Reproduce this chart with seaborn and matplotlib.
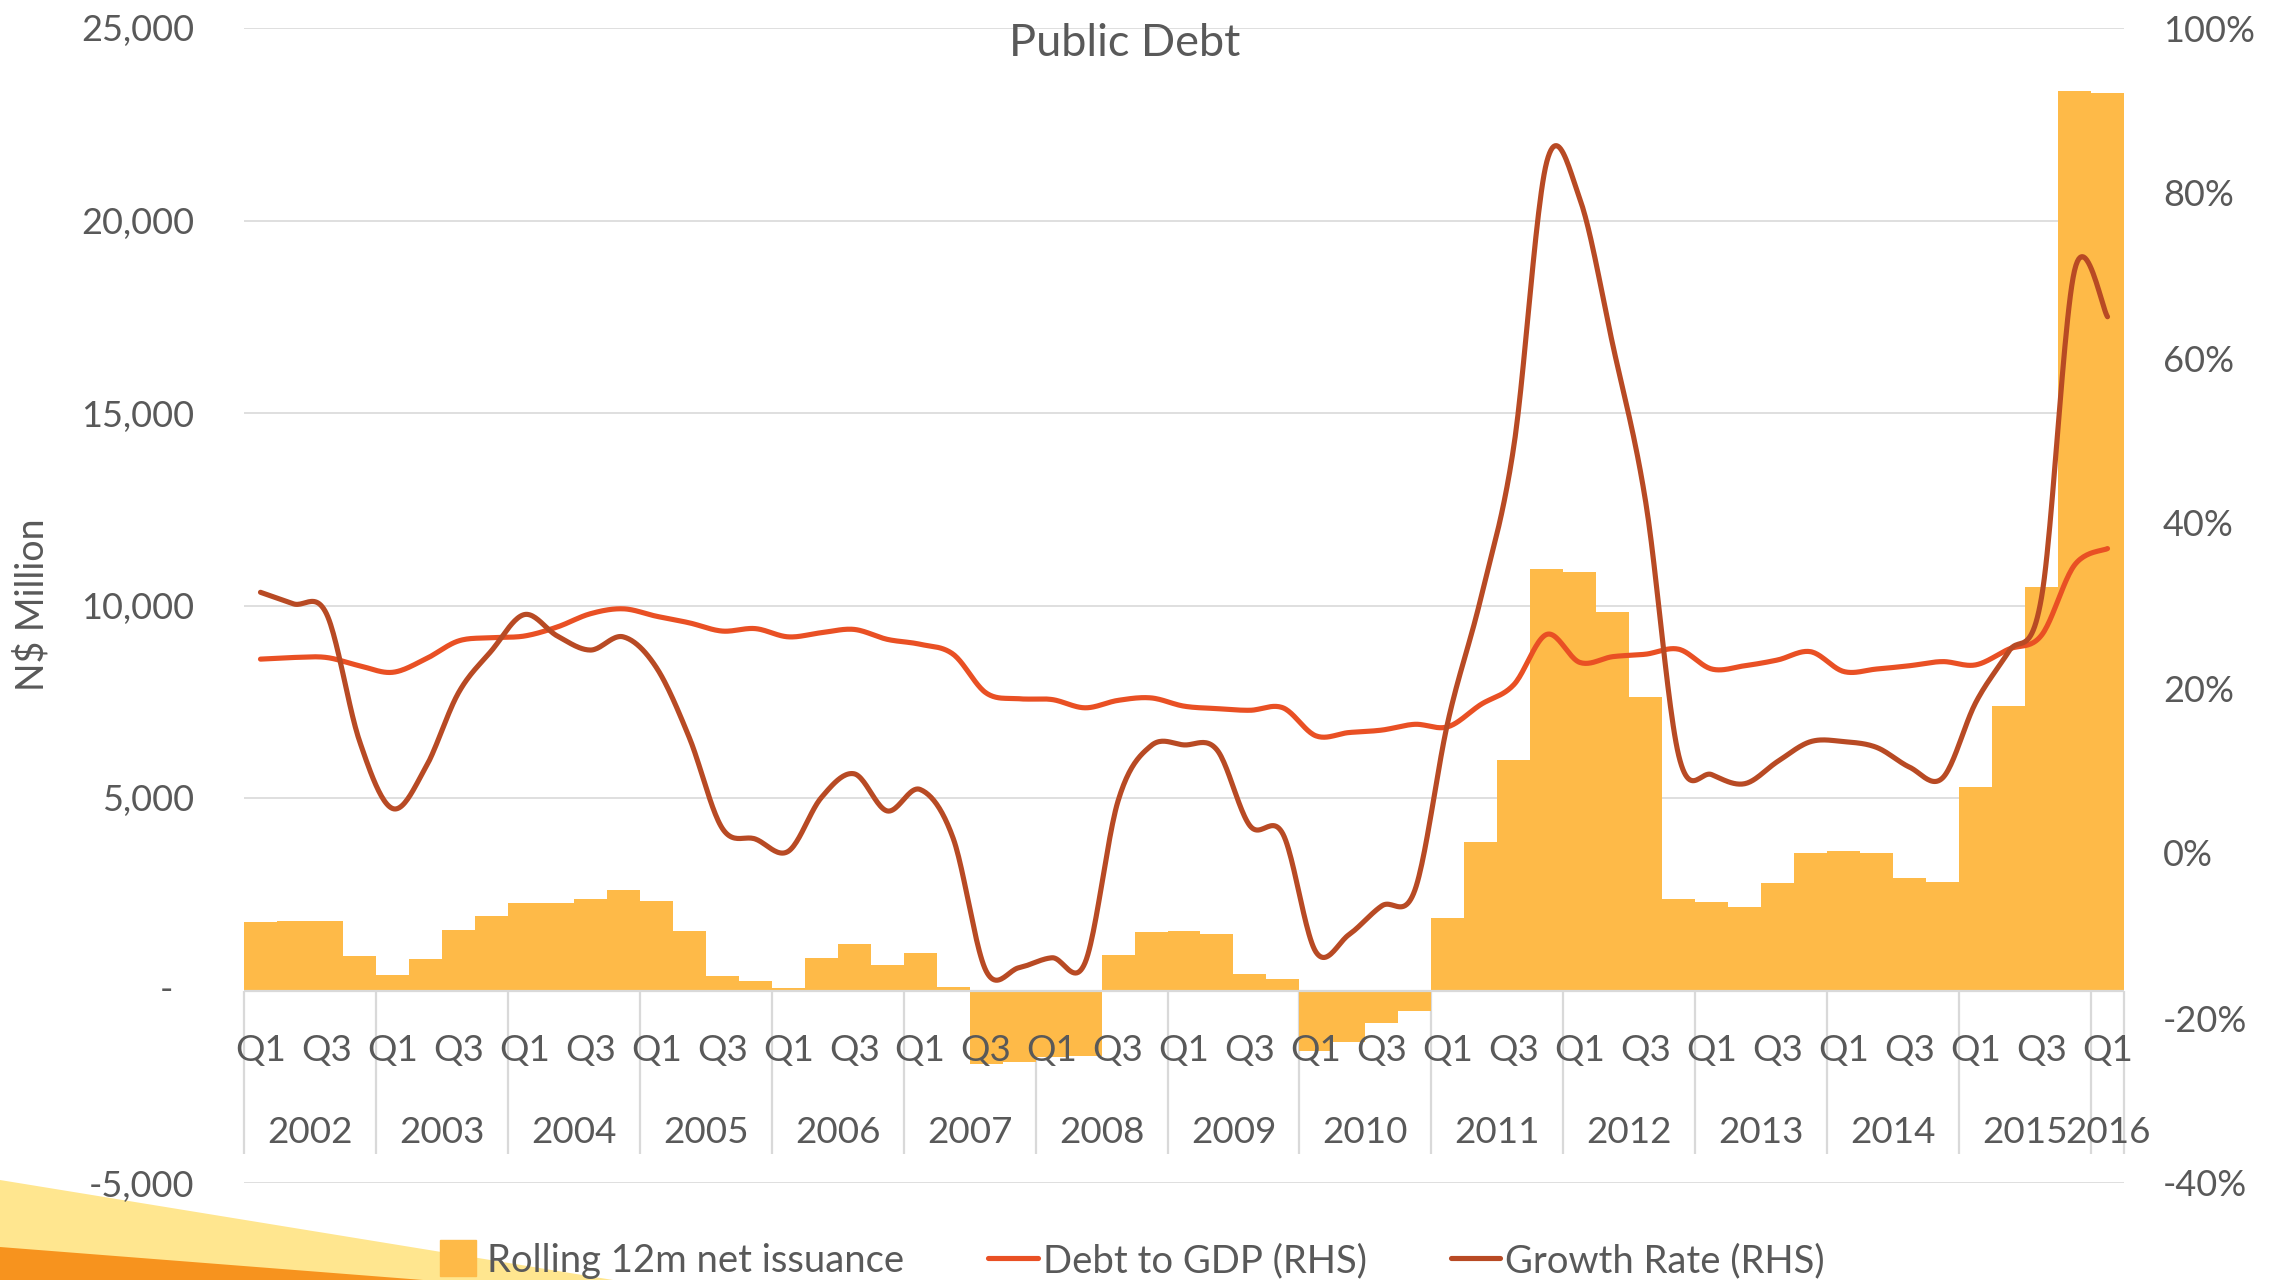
import numpy as np
import pandas as pd
import matplotlib
matplotlib.use("Agg")
import matplotlib.pyplot as plt
import seaborn as sns
from matplotlib.lines import Line2D
from matplotlib.patches import Polygon

# ---- data -------------------------------------------------------------
years = [str(y) for y in range(2002, 2017)]
quarter_names = ["Q1", "Q2", "Q3", "Q4"]
periods = [f"{y} {q}" for y in range(2002, 2016) for q in quarter_names] + ["2016 Q1"]

# rolling 12-month net issuance, N$ million (one value per quarter)
net_issuance = [
    1790, 1810, 1795, 890,        # 2002
    400, 830, 1570, 1940,         # 2003
    2280, 2280, 2365, 2605,       # 2004
    2330, 1550, 380, 240,         # 2005
    70, 850, 1205, 660,           # 2006
    980, 80, -1910, -1860,        # 2007
    -1715, -1710, 930, 1515,      # 2008
    1550, 1470, 425, 305,         # 2009
    -1570, -1340, -850, -545,     # 2010
    1890, 3870, 5985, 10950,      # 2011
    10880, 9840, 7615, 2375,      # 2012
    2300, 2160, 2780, 3580,       # 2013
    3630, 3580, 2910, 2825,       # 2014
    5285, 7400, 10470, 23365,     # 2015
    23305,                        # 2016
]

# debt to GDP, % (right-hand scale)
debt_to_gdp = [
    23.5, 23.7, 23.7, 22.7,
    21.9, 23.5, 25.7, 26.1,
    26.3, 27.4, 29.0, 29.6,
    28.7, 27.9, 26.9, 27.2,
    26.2, 26.7, 27.1, 25.9,
    25.3, 24.1, 19.4, 18.7,
    18.6, 17.6, 18.5, 18.8,
    17.8, 17.5, 17.3, 17.6,
    14.2, 14.6, 14.9, 15.6,
    15.3, 18.0, 20.4, 26.5,
    23.1, 23.8, 24.1, 24.7,
    22.3, 22.7, 23.4, 24.4,
    22.0, 22.3, 22.7, 23.2,
    22.8, 24.7, 26.4, 34.9,
    36.9,
]

# growth rate of public debt, % (right-hand scale)
growth_rate = [
    31.6, 30.2, 29.0, 13.6,
    5.4, 10.3, 19.4, 24.5,
    28.9, 26.3, 24.6, 26.2,
    22.5, 14.0, 3.0, 1.7,
    0.2, 6.7, 9.6, 5.1,
    7.7, 1.8, -14.3, -13.9,
    -12.7, -13.3, 6.3, 13.0,
    13.1, 12.5, 3.3, 2.3,
    -12.0, -9.9, -6.4, -4.5,
    15.9, 30.9, 49.3, 83.8,
    79.3, 61.6, 42.5, 11.8,
    9.5, 8.4, 11.1, 13.5,
    13.5, 12.8, 10.4, 9.1,
    18.2, 24.4, 31.0, 70.6,
    65.0,
]

left_ticks = [-5000, 0, 5000, 10000, 15000, 20000, 25000]
right_ticks = [-40, -20, 0, 20, 40, 60, 80, 100]

series_names = ["Rolling 12m net issuance", "Debt to GDP (RHS)", "Growth Rate (RHS)"]

# ---- styling ------------------------------------------------------------
BAR = "#FEBA48"
DEBT = "#E95024"
GROWTH = "#B84A24"
GRID = "#D9D9D9"
TEXT = "#595959"

sns.set_theme(style="white")
plt.rcParams["font.family"] = ["Lato", "DejaVu Sans"]

W, H = 2287, 1280
fig = plt.figure(figsize=(W / 100, H / 100), dpi=100)
fig.patch.set_facecolor("white")

# decorative wedges in the lower-left corner
fig.add_artist(Polygon([(0, 0), (613 / W, 0), (0, 100 / H)], closed=True,
                       transform=fig.transFigure, facecolor="#FFE68F",
                       edgecolor="none", zorder=0))
fig.add_artist(Polygon([(0, 0), (423 / W, 0), (0, 33 / H)], closed=True,
                       transform=fig.transFigure, facecolor="#F7931E",
                       edgecolor="none", zorder=0))

L, R, T, B = 244, 2124, 28, 1183
ax = fig.add_axes([L / W, 1 - B / H, (R - L) / W, (B - T) / H])
ax.patch.set_alpha(0)

n = len(periods)
df = pd.DataFrame({"period": periods, "value": net_issuance})
sns.barplot(data=df, x="period", y="value", color=BAR, saturation=1,
            width=1.0, linewidth=0, ax=ax, zorder=2)

ax.set_xlim(-0.5, n - 0.5)
ax.set_ylim(left_ticks[0], left_ticks[-1])
ax.set_yticks(left_ticks)
ax.set_yticklabels([f"{v:,}" if v != 0 else "" for v in left_ticks])
ax.tick_params(axis="y", labelsize=26, labelcolor=TEXT, length=0, pad=36)
ax.set_xticks([])
ax.set_xlabel("")
ax.set_ylabel("")
ax.yaxis.grid(True, color=GRID, linewidth=1.2)
ax.set_axisbelow(True)
for s in ax.spines.values():
    s.set_visible(False)

# zero shown as a dash, set further left like an accounting format
ax.text(-71 / (R - L), 0, "-", transform=ax.get_yaxis_transform(),
        ha="right", va="center", fontsize=26, color=TEXT)

# category axis at zero with quarter and year rows
ax.axhline(0, color=GRID, linewidth=1.6, zorder=3)
sep_bottom = -4234
bounds = [4 * j - 0.5 for j in range(15)] + [n - 0.5]
ax.vlines(bounds, sep_bottom, 0, color=GRID, linewidth=1.6, zorder=1, clip_on=False)
q_row, y_row = -1560, -3690
for k, p in enumerate(periods):
    q = p.split()[1]
    if q in ("Q1", "Q3"):
        ax.text(k, q_row, q, ha="center", va="center", fontsize=26.5, color=TEXT, zorder=4)
for j, yr in enumerate(years):
    start = 4 * j
    stop = min(4 * j + 3, n - 1)
    ax.text((start + stop) / 2, y_row, yr, ha="center", va="center",
            fontsize=26.5, color=TEXT, zorder=4)


def smooth_curve(values, steps=24):
    """Bezier smoothing through every point, like a spreadsheet's smoothed line."""
    y = np.asarray(values, dtype=float)
    pts = np.column_stack([np.arange(len(y), dtype=float), y])
    ext = np.vstack([pts[0], pts, pts[-1]])
    t = np.linspace(0, 1, steps, endpoint=False)[:, None]
    parts = []
    for i in range(len(pts) - 1):
        p0, p3 = ext[i + 1], ext[i + 2]
        c1 = p0 + (ext[i + 2] - ext[i]) / 6
        c2 = p3 - (ext[i + 3] - ext[i + 1]) / 6
        parts.append((1 - t) ** 3 * p0 + 3 * (1 - t) ** 2 * t * c1
                     + 3 * (1 - t) * t ** 2 * c2 + t ** 3 * p3)
    parts.append(pts[-1:])
    return np.vstack(parts)


ax2 = ax.twinx()
for vals, col in ((debt_to_gdp, DEBT), (growth_rate, GROWTH)):
    c = smooth_curve(vals)
    sns.lineplot(x=c[:, 0], y=c[:, 1], ax=ax2, color=col, linewidth=3.7,
                 sort=False, estimator=None, solid_capstyle="round")
ax2.set_xlim(-0.5, n - 0.5)
ax2.set_ylim(right_ticks[0], right_ticks[-1])
ax2.set_yticks(right_ticks)
ax2.set_yticklabels([f"{v}%" for v in right_ticks])
ax2.tick_params(axis="y", labelsize=26, labelcolor=TEXT, length=0, pad=28)
ax2.grid(False)
ax2.set_ylabel("")
for s in ax2.spines.values():
    s.set_visible(False)

fig.text(1125 / W, 1 - 44 / H, "Public Debt", ha="center", va="center",
         fontsize=32.5, color=TEXT)
fig.text(32 / W, 1 - 605 / H, "N$ Million", ha="center", va="center",
         rotation=90, fontsize=27, color=TEXT)

handles = [
    Line2D([], [], marker="s", linestyle="none", markersize=26,
           markerfacecolor=BAR, markeredgecolor=BAR),
    Line2D([], [], color=DEBT, linewidth=3.7),
    Line2D([], [], color=GROWTH, linewidth=3.7),
]
fig.legend(handles, series_names, loc="center", bbox_to_anchor=(0.4935, 0.015),
           ncol=3, frameon=False, fontsize=27.5, labelcolor=TEXT,
           handlelength=1.3, handletextpad=0.12, columnspacing=2.2)

fig.savefig("out.png", dpi=100, facecolor="white")
